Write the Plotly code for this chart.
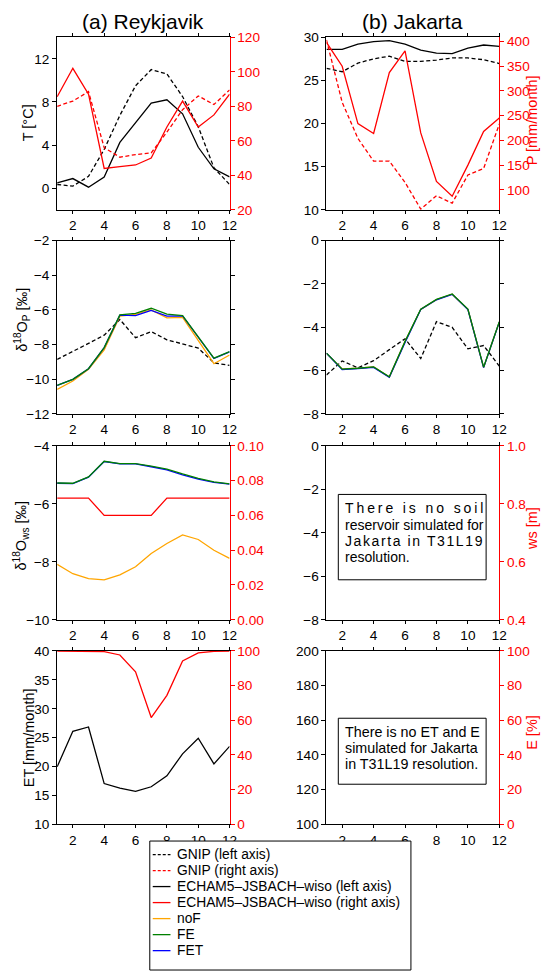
import plotly.graph_objects as go

# ---------------- data ----------------
months = list(range(1, 13))
month_ticks = [2, 4, 6, 8, 10, 12]

# (a) Reykjavik, row 1: temperature [°C] (left) and precipitation [mm/month] (right)
rey_T_gnip = [0.35, 0.2, 1.1, 3.6, 6.75, 9.5, 11.0, 10.6, 8.5, 5.7, 1.9, 0.35]
rey_T_model = [0.5, 0.9, 0.1, 1.05, 4.25, 6.1, 7.9, 8.2, 6.9, 3.8, 1.8, 1.05]
rey_P_gnip = [80, 83, 88.5, 56, 50.5, 52, 53, 65, 78, 86, 81, 89.5]
rey_P_model = [85.5, 102, 87, 44, 45, 46, 50, 68, 83, 68, 75, 87]

# (b) Jakarta, row 1
jak_T_gnip = [26.4, 26.0, 27.0, 27.5, 27.8, 27.2, 27.2, 27.35, 27.6, 27.6, 27.4, 26.95]
jak_T_model = [28.6, 28.6, 29.2, 29.5, 29.6, 29.2, 28.5, 28.15, 28.1, 28.75, 29.1, 28.95]
jak_P_gnip = [403, 277, 204, 158, 158, 115, 61, 88, 73, 130, 143, 233]
jak_P_model = [398, 350, 234, 214, 337, 381, 215, 117, 87, 150, 218, 245]

# row 2: d18O of precipitation [permil]
rey_O18P_gnip = [-8.85, -8.4, -7.93, -7.45, -6.55, -7.6, -7.25, -7.72, -7.98, -8.2, -9.05, -9.2]
rey_O18P_noF = [-10.58, -10.1, -9.42, -8.3, -6.36, -6.25, -6.0, -6.45, -6.43, -7.74, -9.1, -8.6]
rey_O18P_FET = [-10.35, -10.0, -9.39, -8.17, -6.3, -6.33, -6.02, -6.35, -6.34, -7.57, -8.8, -8.42]
rey_O18P_FE = [-10.35, -10.0, -9.39, -8.17, -6.28, -6.19, -5.9, -6.24, -6.32, -7.55, -8.78, -8.4]

jak_O18P_gnip = [-6.2, -5.55, -5.87, -5.54, -5.03, -4.53, -5.44, -3.74, -4.0, -4.99, -4.84, -5.79]
jak_O18P_noF = [-5.2, -5.92, -5.89, -5.83, -6.29, -4.66, -3.17, -2.72, -2.47, -3.17, -5.85, -3.75]
jak_O18P_FET = [-5.2, -5.95, -5.9, -5.85, -6.31, -4.7, -3.18, -2.73, -2.48, -3.18, -5.86, -3.76]
jak_O18P_FE = [-5.19, -5.93, -5.89, -5.83, -6.28, -4.65, -3.16, -2.71, -2.46, -3.16, -5.84, -3.74]

# row 3: d18O of soil water [permil] (left) and soil water ws [m] (right)
rey_O18ws_noF = [-8.09, -8.41, -8.58, -8.62, -8.45, -8.17, -7.71, -7.37, -7.07, -7.23, -7.6, -7.88]
rey_O18ws_FET = [-5.29, -5.3, -5.08, -4.54, -4.62, -4.62, -4.72, -4.83, -5.0, -5.15, -5.26, -5.32]
rey_O18ws_FE = [-5.28, -5.29, -5.07, -4.53, -4.61, -4.61, -4.7, -4.8, -4.97, -5.12, -5.24, -5.31]
rey_ws_model = [0.07, 0.07, 0.07, 0.06, 0.06, 0.06, 0.06, 0.07, 0.07, 0.07, 0.07, 0.07]

# row 4: evapotranspiration [mm/month] (left) and E fraction [%] (right)
rey_ET_model = [19.95, 26.1, 26.85, 17.05, 16.25, 15.7, 16.5, 18.4, 22.2, 24.9, 20.45, 23.5]
rey_E_model = [100, 100, 100, 99.6, 97.7, 88, 61.6, 74.4, 94.3, 98.9, 99.8, 100]

# axis tick labels
left_ticks = {
    1: [0, 4, 8, 12], 2: [10, 15, 20, 25, 30],
    3: [-12, -10, -8, -6, -4, -2], 4: [-8, -6, -4, -2, 0],
    5: [-10, -8, -6, -4], 6: [-8, -6, -4, -2, 0],
    7: [10, 15, 20, 25, 30, 35, 40], 8: [100, 120, 140, 160, 180, 200],
}
right_ticks = {
    1: [20, 40, 60, 80, 100, 120], 2: [100, 150, 200, 250, 300, 350, 400],
    5: [0, 0.02, 0.04, 0.06, 0.08, 0.10], 6: [0.4, 0.6, 0.8, 1.0],
    7: [0, 20, 40, 60, 80, 100], 8: [0, 20, 40, 60, 80, 100],
}
legend_labels = ["GNIP (left axis)", "GNIP (right axis)",
                 "ECHAM5–JSBACH–wiso (left axis)", "ECHAM5–JSBACH–wiso (right axis)",
                 "noF", "FE", "FET"]

# ---------------- layout helpers ----------------
W, H = 549, 980
FONT = "Liberation Sans, Arial, Helvetica, sans-serif"
BLACK, RED, ORANGE, GREEN, BLUE = "#000000", "#ff0000", "#ffa500", "#008000", "#0000ff"
DASH = "4px,2.5px"
TICKF = 13.6

cols = [(58, 233), (331.3, 506.7)]
rows = [(30.7, 206), (237.3, 413.3), (445.7, 622.3), (654, 830)]

left_range = {1: [-2, 14], 2: [10, 30], 3: [-12, -2], 4: [-8, 0],
              5: [-10, -4], 6: [-8, 0], 7: [10, 40], 8: [100, 200]}
right_range = {1: [20, 120], 2: [59.5, 408.6], 5: [0, 0.1], 6: [0.4, 1.0],
               7: [0, 100], 8: [0, 100]}
right_fmt = {1: "d", 2: "d", 5: ".2f", 6: ".1f", 7: "d", 8: "d"}


def ax_id(prefix, i):
    return prefix if i == 1 else f"{prefix}{i}"


fig = go.Figure()
lay = {}
for i in range(1, 9):
    r, c = (i - 1) // 2, (i - 1) % 2
    x0, x1 = cols[c]
    y0, y1 = rows[r]
    lay[ax_id("xaxis", i)] = dict(
        domain=[x0 / W, x1 / W], anchor=ax_id("y", i), range=[1, 12],
        tickvals=month_ticks, ticks="outside", ticklen=3, tickcolor=BLACK,
        showline=True, linecolor=BLACK, linewidth=1, mirror="ticks",
        showgrid=False, zeroline=False, tickfont=dict(size=TICKF, color=BLACK))
    lay[ax_id("yaxis", i)] = dict(
        domain=[1 - y1 / H, 1 - y0 / H], anchor=ax_id("x", i), range=left_range[i],
        tickvals=left_ticks[i], ticks="outside", ticklen=4, tickcolor=BLACK,
        showline=True, linecolor=BLACK, linewidth=1,
        mirror="ticks" if i in (3, 4) else False,
        showgrid=False, zeroline=False, tickfont=dict(size=TICKF, color=BLACK))
    if i in right_range:
        lay[f"yaxis{i + 8}"] = dict(
            overlaying=ax_id("y", i), side="right", anchor=ax_id("x", i),
            range=right_range[i], tickvals=right_ticks[i], tickformat=right_fmt[i],
            ticks="outside", ticklen=4, tickcolor=RED,
            showline=True, linecolor=RED, linewidth=1,
            showgrid=False, zeroline=False, tickfont=dict(size=TICKF, color=RED))


def add(y, color, i, right=False, dash=None, name=None):
    fig.add_trace(go.Scatter(
        x=months, y=y, mode="lines", name=name, showlegend=False,
        line=dict(color=color, width=1.3, dash=dash),
        xaxis=ax_id("x", i), yaxis=(f"y{i + 8}" if right else ax_id("y", i))))


# row 1
add(rey_P_gnip, RED, 1, right=True, dash=DASH, name=legend_labels[1])
add(rey_P_model, RED, 1, right=True, name=legend_labels[3])
add(rey_T_gnip, BLACK, 1, dash=DASH, name=legend_labels[0])
add(rey_T_model, BLACK, 1, name=legend_labels[2])
add(jak_P_gnip, RED, 2, right=True, dash=DASH, name=legend_labels[1])
add(jak_P_model, RED, 2, right=True, name=legend_labels[3])
add(jak_T_gnip, BLACK, 2, dash=DASH, name=legend_labels[0])
add(jak_T_model, BLACK, 2, name=legend_labels[2])
# row 2
add(rey_O18P_gnip, BLACK, 3, dash=DASH, name=legend_labels[0])
add(rey_O18P_noF, ORANGE, 3, name="noF")
add(rey_O18P_FET, BLUE, 3, name="FET")
add(rey_O18P_FE, GREEN, 3, name="FE")
add(jak_O18P_gnip, BLACK, 4, dash=DASH, name=legend_labels[0])
add(jak_O18P_noF, ORANGE, 4, name="noF")
add(jak_O18P_FET, BLUE, 4, name="FET")
add(jak_O18P_FE, GREEN, 4, name="FE")
# row 3
add(rey_ws_model, RED, 5, right=True, name=legend_labels[3])
add(rey_O18ws_noF, ORANGE, 5, name="noF")
add(rey_O18ws_FET, BLUE, 5, name="FET")
add(rey_O18ws_FE, GREEN, 5, name="FE")
# row 4
add(rey_E_model, RED, 7, right=True, name=legend_labels[3])
add(rey_ET_model, BLACK, 7, name=legend_labels[2])

# empty Jakarta panels (no simulated data) - keep axes alive
for i in (6, 8):
    fig.add_trace(go.Scatter(x=[None], y=[None], mode="lines", showlegend=False,
                             xaxis=ax_id("x", i), yaxis=ax_id("y", i)))
    fig.add_trace(go.Scatter(x=[None], y=[None], mode="lines", showlegend=False,
                             xaxis=ax_id("x", i), yaxis=f"y{i + 8}"))

ann = []
shapes = []


def txt(x, y, s, size=14, color=BLACK, angle=0, xanchor="center"):
    ann.append(dict(x=x / W, y=1 - y / H, xref="paper", yref="paper", text=s,
                    showarrow=False, textangle=angle, xanchor=xanchor, yanchor="middle",
                    font=dict(family=FONT, size=size, color=color)))


# column titles
txt(145.5, 15, "(a) Reykjavik", size=21)
txt(419, 15, "(b) Jakarta", size=21)
# left axis titles
txt(28.5, 118, "T [°C]", size=14.5, angle=-90)
txt(22, 318, "δ<sup>18</sup>O<sub>P</sub> [‰]", size=14.5, angle=-90)
txt(21, 537, "δ<sup>18</sup>O<sub>ws</sub> [‰]", size=14.5, angle=-90)
txt(29, 742, "ET [mm/month]", size=14.5, angle=-90)
# right axis titles
txt(540, 115, "P [mm/month]", size=14.5, color=RED, angle=-90)
txt(540, 530, "ws [m]", size=14.5, color=RED, angle=-90)
txt(540, 737, "E [%]", size=14.5, color=RED, angle=-90)

# note boxes
shapes.append(dict(type="rect", xref="paper", yref="paper",
                   x0=343.3 / W, x1=493.3 / W, y0=1 - 581.7 / H, y1=1 - 495 / H,
                   line=dict(color=BLACK, width=1), fillcolor="rgba(0,0,0,0)"))
box1 = [("There is no soil", 2.9), ("reservoir simulated for", 0),
        ("Jakarta in T31L19", 1.6), ("resolution.", 0)]
for k, (s, ls) in enumerate(box1):
    t = f'<span style="letter-spacing:{ls}px">{s}</span>' if ls else s
    txt(348, 509 + 16.6 * k, t, size=14, xanchor="left")

shapes.append(dict(type="rect", xref="paper", yref="paper",
                   x0=343.3 / W, x1=493.3 / W, y0=1 - 789.3 / H, y1=1 - 722.3 / H,
                   line=dict(color=BLACK, width=1), fillcolor="rgba(0,0,0,0)"))
box2 = ["There is no ET and E", "simulated for Jakarta", "in T31L19 resolution."]
for k, s in enumerate(box2):
    txt(348, 736.7 + 16.2 * k, s, size=14.3, xanchor="left")

# legend (drawn as a boxed key)
shapes.append(dict(type="rect", xref="paper", yref="paper",
                   x0=152 / W, x1=417 / W, y0=1 - 978 / H, y1=1 - 847 / H,
                   line=dict(color=BLACK, width=1), fillcolor="white"))
leg_styles = [(BLACK, "3px,2px"), (RED, "3px,2px"), (BLACK, "solid"), (RED, "solid"),
              (ORANGE, "solid"), (GREEN, "solid"), (BLUE, "solid")]
for k, (lab, (col, dsh)) in enumerate(zip(legend_labels, leg_styles)):
    yy = 860.7 + 16.27 * k
    shapes.append(dict(type="line", xref="paper", yref="paper",
                       x0=155 / W, x1=173 / W, y0=1 - yy / H, y1=1 - yy / H,
                       line=dict(color=col, width=1.3, dash=dsh)))
    txt(178, yy, lab, size=13.8, xanchor="left")

fig.update_layout(
    width=W, height=H, margin=dict(l=0, r=0, t=0, b=0),
    paper_bgcolor="white", plot_bgcolor="white",
    font=dict(family=FONT, size=TICKF, color=BLACK),
    showlegend=False, annotations=ann, shapes=shapes, **lay)

fig.write_html("out.html", config={"displayModeBar": False},
               post_script="document.body.style.margin='0px';")
